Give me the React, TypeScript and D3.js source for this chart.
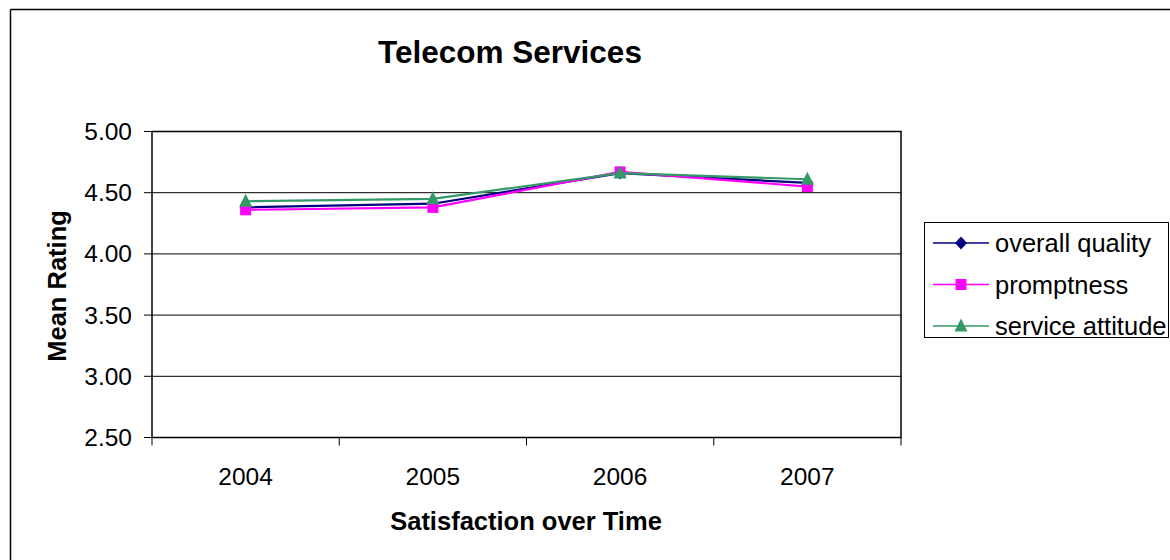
import React from "react";
import * as d3 from "d3";

const years = ["2004", "2005", "2006", "2007"];
const overallQuality = [4.38, 4.41, 4.66, 4.58];
const promptness = [4.36, 4.38, 4.67, 4.55];
const serviceAttitude = [4.43, 4.45, 4.66, 4.61];
const yTicks = [2.5, 3.0, 3.5, 4.0, 4.5, 5.0];
const seriesNames = ["overall quality", "promptness", "service attitude"];

const W = 1170;
const H = 560;
const plot = { left: 152, right: 901, top: 131.5, bottom: 437.5 };
const FONT = "Liberation Sans, Arial, sans-serif";

function markerPath(m: string): string {
  const p = d3.path();
  if (m === "diamond") {
    p.moveTo(0, -6.5); p.lineTo(6, 0); p.lineTo(0, 6.5); p.lineTo(-6, 0); p.closePath();
  } else if (m === "square") {
    p.rect(-5.5, -5.5, 11, 11);
  } else {
    p.moveTo(0, -7.5); p.lineTo(6.5, 5.5); p.lineTo(-6.5, 5.5); p.closePath();
  }
  return p.toString();
}

export default function App() {
  const x = d3.scaleBand<string>().domain(years).range([plot.left, plot.right]);
  const y = d3.scaleLinear().domain([2.5, 5]).range([plot.bottom, plot.top]);

  const series = [
    { name: seriesNames[0], values: overallQuality, color: "#000080", marker: "diamond" },
    { name: seriesNames[1], values: promptness, color: "#FF00FF", marker: "square" },
    { name: seriesNames[2], values: serviceAttitude, color: "#339966", marker: "triangle" },
  ];

  const cx = (yr: string) => (x(yr) as number) + x.bandwidth() / 2;

  const line = d3
    .line<number>()
    .x((_, i) => cx(years[i]))
    .y((d) => y(d));

  const tickXs = years.map((yr) => x(yr) as number).concat([plot.right]);

  return (
    <svg width={W} height={H} style={{ position: "absolute", left: 0, top: 0 }}>
      <rect x={0} y={0} width={W} height={H} fill="#fff" />
      {/* outer chart frame */}
      <line x1={10.5} y1={9.5} x2={W} y2={9.5} stroke="#000" strokeWidth={1.5} />
      <line x1={10.5} y1={9.5} x2={10.5} y2={H} stroke="#000" strokeWidth={1.5} />

      {/* title */}
      <text x={510} y={63} textAnchor="middle" fontFamily={FONT} fontWeight="bold" fontSize={31.5}>
        Telecom Services
      </text>

      {/* gridlines */}
      {yTicks.map((t) => (
        <line key={"g" + t} x1={plot.left - 8} x2={plot.right} y1={y(t)} y2={y(t)} stroke="#000" strokeWidth={1} />
      ))}
      {/* plot frame */}
      <rect
        x={plot.left}
        y={plot.top}
        width={plot.right - plot.left}
        height={plot.bottom - plot.top}
        fill="none"
        stroke="#000"
        strokeWidth={1.5}
      />
      {/* x ticks */}
      {tickXs.map((tx, i) => (
        <line key={"xt" + i} x1={tx} x2={tx} y1={plot.bottom} y2={plot.bottom + 8} stroke="#000" strokeWidth={1} />
      ))}

      {/* y tick labels */}
      {yTicks.map((t) => (
        <text key={"yl" + t} x={132} y={y(t) + 8.5} textAnchor="end" fontFamily={FONT} fontSize={24.5}>
          {t.toFixed(2)}
        </text>
      ))}
      {/* x tick labels */}
      {years.map((yr) => (
        <text key={"xl" + yr} x={cx(yr)} y={485} textAnchor="middle" fontFamily={FONT} fontSize={24.5}>
          {yr}
        </text>
      ))}

      {/* axis titles */}
      <text x={526} y={530} textAnchor="middle" fontFamily={FONT} fontWeight="bold" fontSize={25.5}>
        Satisfaction over Time
      </text>
      <text
        transform={`translate(66, 286) rotate(-90)`}
        textAnchor="middle"
        fontFamily={FONT}
        fontWeight="bold"
        fontSize={25.5}
      >
        Mean Rating
      </text>

      {/* series */}
      {series.map((s) => (
        <g key={s.name}>
          <path d={line(s.values) || ""} fill="none" stroke={s.color} strokeWidth={2.2} />
          {s.values.map((v, i) => (
            <path key={i} d={markerPath(s.marker)} transform={`translate(${cx(years[i])}, ${y(v)})`} fill={s.color} />
          ))}
        </g>
      ))}

      {/* legend */}
      <rect x={924.5} y={222.5} width={244} height={115} fill="#fff" stroke="#000" strokeWidth={1} />
      {series.map((s, i) => {
        const ly = 243 + i * 41.5;
        return (
          <g key={"lg" + s.name}>
            <line x1={933} x2={989} y1={ly} y2={ly} stroke={s.color} strokeWidth={1.5} />
            <path d={markerPath(s.marker)} transform={`translate(961, ${ly})`} fill={s.color} />
            <text x={995} y={ly + 9} fontFamily={FONT} fontSize={25.5}>
              {s.name}
            </text>
          </g>
        );
      })}
    </svg>
  );
}
